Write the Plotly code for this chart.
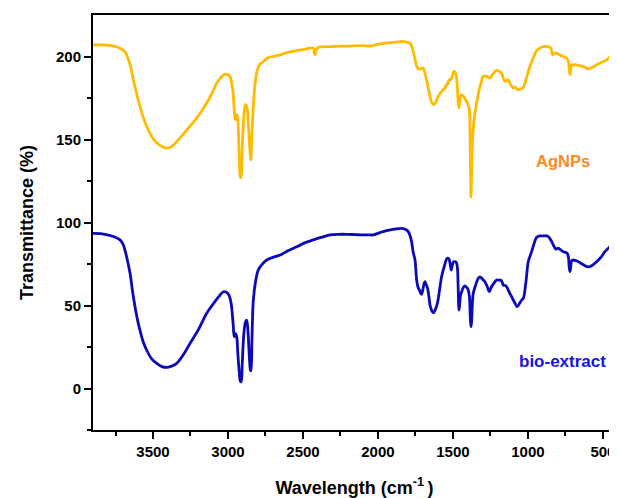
import plotly.graph_objects as go

# AgNPs spectrum (wavenumber cm-1, transmittance %)
ag_wn = [3900, 3850, 3780, 3720, 3690, 3676, 3650, 3631, 3610, 3587, 3560, 3542, 3510, 3475, 3445, 3413,
         3380, 3342, 3300, 3253, 3200, 3142, 3100, 3075, 3040, 3020, 3000, 2987, 2975, 2964, 2955, 2950,
         2940, 2933, 2925, 2918, 2912, 2905, 2895, 2884, 2875, 2865, 2855, 2848, 2842, 2831, 2820, 2809,
         2790, 2764, 2740, 2700, 2653, 2600, 2542, 2480, 2431, 2425, 2420, 2415, 2400, 2320, 2200, 2100,
         2050, 1987, 1900, 1831, 1787, 1775, 1765, 1752, 1742, 1730, 1720, 1705, 1698, 1687, 1676, 1665,
         1653, 1640, 1627, 1612, 1598, 1585, 1576, 1565, 1553, 1545, 1538, 1530, 1524, 1516, 1509, 1500,
         1491, 1484, 1476, 1470, 1465, 1460, 1455, 1449, 1442, 1430, 1418, 1409, 1400, 1391, 1386, 1382,
         1380, 1377, 1372, 1365, 1355, 1342, 1325, 1310, 1298, 1275, 1253, 1230, 1209, 1190, 1176, 1165,
         1153, 1140, 1131, 1120, 1109, 1098, 1087, 1075, 1064, 1045, 1031, 1010, 987, 965, 942, 920,
         898, 875, 853, 843, 836, 822, 809, 790, 765, 742, 730, 725, 720, 714, 708, 698,
         680, 653, 620, 598, 570, 542, 510, 475, 450, 430, 410]
ag_t = [207, 207, 206.5, 205, 203, 201, 194, 186, 178, 170, 162, 158, 152, 148, 146, 144.8,
        145.5, 148.7, 153, 158, 164, 172, 179, 184, 188, 189.4, 189, 188, 184, 176, 164, 162,
        165, 160, 140, 127, 128, 145, 163, 171, 170, 160, 145, 137.7, 150, 170, 183, 190,
        195, 197, 199, 200, 201, 202.5, 203.6, 204.5, 205, 202, 201, 203, 205.3, 206, 206.3, 206.5,
        206.3, 207.6, 208.5, 209, 208, 206, 203, 198, 194, 192.5, 192.4, 193, 193, 190, 186, 181,
        176, 172, 171, 173, 176, 178, 179, 180, 181, 183, 183, 185, 186, 186, 187, 190,
        191, 190, 187, 180, 172, 169, 172, 176, 177, 176, 174, 173, 171, 168, 150, 125,
        115.5, 125, 145, 156, 165, 172, 180, 185, 188, 188, 187, 190, 191.6, 191, 190, 187,
        185, 185.5, 186, 184, 182, 181, 181.5, 180.5, 180, 180.5, 181.5, 187, 194, 199, 203.6, 205,
        206, 206, 205.6, 204, 201, 202, 202, 201, 200, 199, 197, 192, 189, 193, 195, 195,
        195, 194.4, 193.5, 192.6, 193.5, 195, 196.5, 198, 200.5, 204, 207]

# bio-extract spectrum
bio_wn = [3900, 3850, 3780, 3720, 3700, 3687, 3670, 3653, 3637, 3620, 3600, 3587, 3565, 3542, 3510, 3475,
          3440, 3409, 3380, 3342, 3300, 3253, 3200, 3142, 3090, 3060, 3031, 3010, 2998, 2985, 2976, 2965,
          2958, 2950, 2942, 2935, 2925, 2918, 2912, 2905, 2895, 2884, 2876, 2868, 2858, 2850, 2847, 2840,
          2831, 2815, 2798, 2770, 2742, 2700, 2653, 2600, 2542, 2480, 2431, 2380, 2320, 2260, 2209, 2150,
          2098, 2050, 2031, 1987, 1942, 1890, 1842, 1815, 1798, 1786, 1776, 1765, 1753, 1748, 1742, 1733,
          1724, 1716, 1709, 1700, 1693, 1687, 1680, 1669, 1660, 1653, 1642, 1631, 1620, 1604, 1590, 1576,
          1560, 1545, 1538, 1530, 1524, 1517, 1511, 1505, 1495, 1487, 1478, 1471, 1465, 1460, 1456, 1450,
          1442, 1430, 1420, 1405, 1398, 1390, 1384, 1380, 1376, 1370, 1365, 1350, 1331, 1320, 1300, 1287,
          1270, 1258, 1245, 1230, 1209, 1195, 1180, 1172, 1164, 1150, 1142, 1125, 1109, 1090, 1071, 1055,
          1040, 1031, 1015, 998, 985, 976, 960, 942, 920, 898, 871, 855, 842, 825, 813, 800,
          787, 775, 764, 750, 738, 730, 725, 720, 715, 709, 702, 680, 653, 620, 598, 575,
          542, 510, 487, 470, 453, 430, 410]
bio_t = [93.5, 93.3, 92, 89.5, 87, 83.4, 77, 69.4, 59, 49.3, 40, 35.2, 28, 23.1, 18, 15.1,
         13.2, 12.7, 13.3, 15.1, 20, 27.2, 35, 45.3, 52, 55.5, 58.3, 58, 56.9, 54, 49.3, 38,
         31.2, 33, 31.2, 22, 10, 4.5, 4.0, 15, 32, 40, 41.2, 36, 20, 11, 10.7, 30,
         53.3, 65, 71.4, 75, 77.4, 79, 80.4, 83, 85.4, 88, 89.5, 91, 92.5, 92.9, 92.9, 92.7,
         92.5, 92.5, 92.5, 93.9, 95.1, 96, 96.5, 95.8, 94.5, 92, 88.5, 82, 77.4, 72, 65.3, 61,
         59.3, 57.5, 56.7, 60, 63, 64.3, 63, 60.3, 55, 50.3, 47, 45.6, 47, 51.3, 59, 67.3,
         73, 77.5, 78.4, 78.4, 77.4, 74, 71.4, 74, 76.4, 76.4, 76, 73.3, 60, 47.3, 50, 56,
         58.3, 61, 61.8, 60.5, 59.3, 55, 42, 37.2, 40, 52, 57.3, 62, 66.4, 67.3, 65.5, 64.3,
         61, 58.3, 61, 63, 65.3, 65.3, 65.3, 64, 62.3, 62, 61.3, 58, 55.3, 52, 49.3, 51.5,
         53.5, 54.3, 63, 76.4, 80, 82.4, 87, 91.1, 91.9, 91.9, 91.9, 90.5, 88.5, 85.5, 83.9, 84.5,
         83.9, 83, 82.4, 82, 81.4, 79, 73, 70.4, 73, 77, 77.4, 77, 75.8, 74, 73.3, 74,
         76.4, 79.5, 82.4, 84, 85.4, 89, 93.5]

x_ticks = [3500, 3000, 2500, 2000, 1500, 1000, 500]
y_ticks = [0, 50, 100, 150, 200]
series_names = ["AgNPs", "bio-extract"]

FONT = "Arial, 'Liberation Sans', sans-serif"

fig = go.Figure()
fig.add_trace(go.Scatter(x=bio_wn, y=bio_t, mode="lines", name=series_names[1],
                         line=dict(color="#0A0AB8", width=2.8), line_shape="spline"))
fig.add_trace(go.Scatter(x=ag_wn, y=ag_t, mode="lines", name=series_names[0],
                         line=dict(color="#FFBB00", width=2.8), line_shape="spline"))

fig.add_annotation(x=765, y=137, text="AgNPs", showarrow=False,
                   font=dict(family=FONT, size=16.5, color="#FF8A1C", weight="bold"))
fig.add_annotation(x=773, y=16, text="bio-extract", showarrow=False,
                   font=dict(family=FONT, size=17, color="#1414E6", weight="bold"))

axis_common = dict(showline=True, linewidth=2, linecolor="black", mirror=True,
                   ticks="outside", tickwidth=2, ticklen=7, tickcolor="black",
                   showgrid=False, zeroline=False, automargin=False,
                   tickfont=dict(family=FONT, size=15, color="black", weight="bold"))

fig.update_xaxes(range=[3900, 413], tickvals=x_ticks, ticktext=[str(v) for v in x_ticks],
                 minor=dict(ticks="outside", ticklen=4, tickwidth=2, tickcolor="black",
                            tickvals=[3750, 3250, 2750, 2250, 1750, 1250, 750]),
                 title=dict(text="Wavelength (cm<sup>-1 </sup>)", standoff=26,
                            font=dict(family=FONT, size=18, color="black", weight="bold")),
                 **axis_common)
fig.update_yaxes(range=[-25, 225], tickvals=y_ticks, ticktext=[str(v) for v in y_ticks],
                 ticklabelstandoff=0,
                 minor=dict(ticks="outside", ticklen=4, tickwidth=2, tickcolor="black",
                            tickvals=[-25, 25, 75, 125, 175]),
                 title=dict(text="Transmittance (%)", standoff=18,
                            font=dict(family=FONT, size=18, color="black", weight="bold")),
                 **axis_common)

# page body has an 8px default margin, so the figure is sized/offset to compensate
fig.update_layout(width=609, height=490, margin=dict(l=85, r=1, t=7, b=68),
                  plot_bgcolor="white", paper_bgcolor="white", showlegend=False)

fig.write_html("out.html")
